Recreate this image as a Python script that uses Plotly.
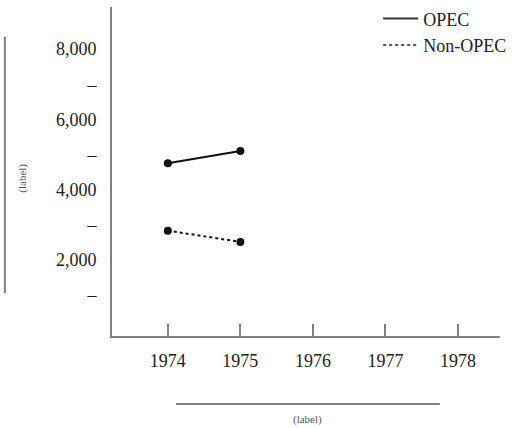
import plotly.graph_objects as go

years = [1974, 1975]
opec = [4750, 5100]
non_opec = [2830, 2510]
x_ticks = [1974, 1975, 1976, 1977, 1978]
x_tick_labels = ["1974", "1975", "1976", "1977", "1978"]
y_ticks = [1000, 2000, 3000, 4000, 5000, 6000, 7000, 8000]
y_tick_labels = ["–", "2,000", "–", "4,000", "–", "6,000", "–", "8,000"]

FONT = "Liberation Serif"
AXIS = "#808080"
TEXT = "#222222"

fig = go.Figure()
fig.add_trace(go.Scatter(
    x=years, y=opec, name="OPEC", mode="lines+markers", showlegend=False,
    line=dict(color="#111111", width=2),
    marker=dict(color="#111111", size=8),
))
fig.add_trace(go.Scatter(
    x=years, y=non_opec, name="Non-OPEC", mode="lines+markers", showlegend=False,
    line=dict(color="#111111", width=2, dash="dot"),
    marker=dict(color="#111111", size=8),
))
# legend entries (line only, as in the reference key)
fig.add_trace(go.Scatter(x=[None], y=[None], name="OPEC", mode="lines",
                         line=dict(color="#333333", width=2)))
fig.add_trace(go.Scatter(x=[None], y=[None], name="Non-OPEC", mode="lines",
                         line=dict(color="#555555", width=2, dash="dot")))

fig.update_layout(
    width=522, height=428,
    margin=dict(l=112, r=22, t=7, b=92, autoexpand=False),
    plot_bgcolor="white", paper_bgcolor="white",
    font=dict(family=FONT, size=18, color=TEXT),
    showlegend=True,
    legend=dict(
        x=0.686, y=1.02, xanchor="left", yanchor="top",
        bgcolor="rgba(0,0,0,0)", font=dict(family=FONT, size=18, color=TEXT),
        itemwidth=35, tracegroupgap=0,
    ),
    xaxis=dict(
        range=[1973.23, 1978.58], tickmode="array", tickvals=x_ticks, ticktext=x_tick_labels,
        showline=True, linecolor=AXIS, linewidth=2, ticks="inside", ticklen=12,
        tickwidth=2, tickcolor=AXIS, showgrid=False, zeroline=False,
        ticklabelstandoff=7,
        tickfont=dict(family=FONT, size=18, color=TEXT),
    ),
    yaxis=dict(
        range=[-170, 9200], tickmode="array", tickvals=y_ticks, ticktext=y_tick_labels,
        showline=True, linecolor=AXIS, linewidth=2, ticks="", showgrid=False,
        zeroline=False, ticklabelstandoff=10,
        tickfont=dict(family=FONT, size=18, color=TEXT),
    ),
)

# decorative axis-title bars and labels
fig.add_shape(type="line", xref="paper", yref="paper",
              x0=-0.276, x1=-0.276, y0=0.131, y1=0.909,
              line=dict(color=AXIS, width=2))
fig.add_shape(type="line", xref="paper", yref="paper",
              x0=0.165, x1=0.845, y0=-0.207, y1=-0.207,
              line=dict(color=AXIS, width=2))
fig.add_annotation(text="(label)", xref="paper", yref="paper", x=-0.233, y=0.48,
                   xanchor="center", yanchor="middle",
                   textangle=-90, showarrow=False, font=dict(family=FONT, size=11, color="#555555"))
fig.add_annotation(text="(label)", xref="paper", yref="paper", x=0.505, y=-0.255,
                   xanchor="center", yanchor="middle",
                   showarrow=False, font=dict(family=FONT, size=11, color="#555555"))

fig.write_html("out.html", config={"displayModeBar": False},
               post_script="document.body.style.margin='0';")
